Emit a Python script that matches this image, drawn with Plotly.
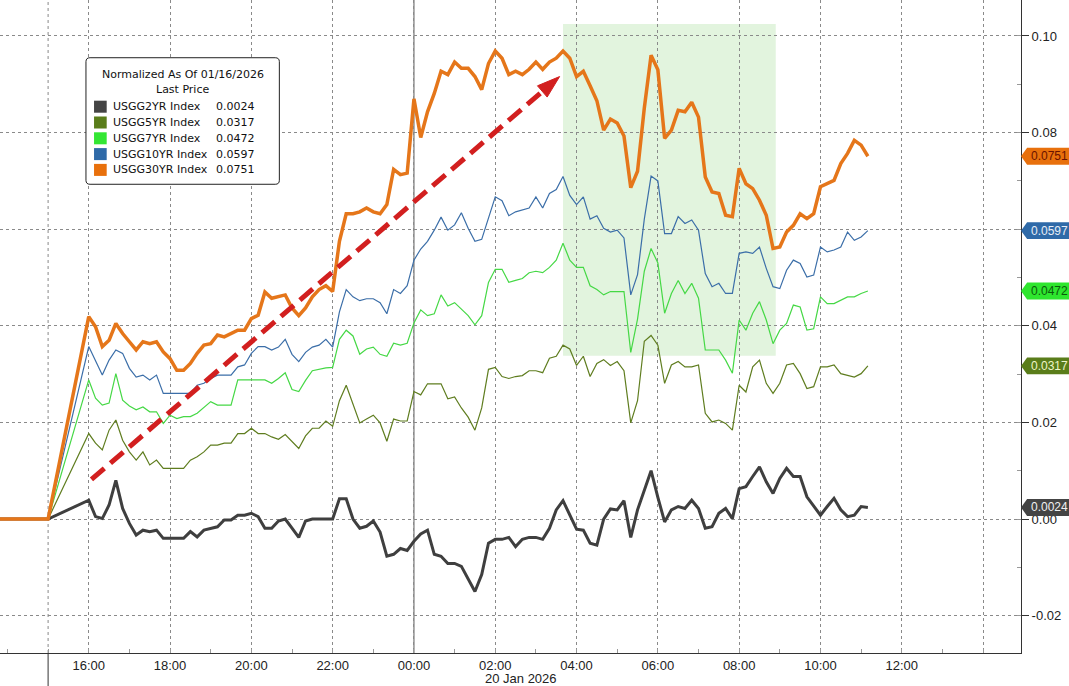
import pandas as pd
import plotly.graph_objects as go

# Yield changes normalized as of 01/16/2026, sampled every 10 minutes from 19 Jan 16:00
series_names = ["USGG2YR Index", "USGG5YR Index", "USGG7YR Index", "USGG10YR Index", "USGG30YR Index"]
last_prices = [0.0024, 0.0317, 0.0472, 0.0597, 0.0751]

# flat part before the session opens
lead_times = ["2026-01-19 13:40", "2026-01-19 15:00"]
lead_values = [0.0, 0.0]

usgg2yr = [
    0.0039, 0.0005, 0.0001, 0.0029, 0.0080, 0.0022, -0.0009, -0.0033, -0.0023, -0.0026,
    -0.0023, -0.0040, -0.0040, -0.0040, -0.0040, -0.0026, -0.0037, -0.0023, -0.0019, -0.0016,
    -0.0002, -0.0002, 0.0008, 0.0008, 0.0012, 0.0005, -0.0019, -0.0019, -0.0004, 0.0000,
    -0.0019, -0.0038, -0.0004, 0.0000, 0.0000, 0.0000, 0.0000, 0.0042, 0.0042, 0.0000,
    -0.0019, -0.0015, -0.0004, -0.0027, -0.0077, -0.0073, -0.0061, -0.0065, -0.0046, -0.0031,
    -0.0023, -0.0073, -0.0077, -0.0092, -0.0092, -0.0098, -0.0125, -0.0150, -0.0115, -0.0050,
    -0.0042, -0.0042, -0.0038, -0.0057, -0.0042, -0.0038, -0.0038, -0.0042, -0.0019, 0.0019,
    0.0038, 0.0008, -0.0021, -0.0023, -0.0050, -0.0054, 0.0000, 0.0021, 0.0019, 0.0038,
    -0.0038, 0.0019, 0.0061, 0.0100, 0.0045, -0.0006, 0.0019, 0.0026, 0.0022, 0.0039,
    0.0022, -0.0019, -0.0016, 0.0012, 0.0022, 0.0001, 0.0063, 0.0067, 0.0088, 0.0108,
    0.0077, 0.0053, 0.0084, 0.0105, 0.0088, 0.0088, 0.0046, 0.0026, 0.0008, 0.0026,
    0.0043, 0.0019, 0.0005, 0.0008, 0.0026, 0.0024,
]
usgg5yr = [
    0.0177, 0.0157, 0.0143, 0.0184, 0.0205, 0.0163, 0.0139, 0.0122, 0.0139, 0.0112,
    0.0122, 0.0105, 0.0105, 0.0105, 0.0105, 0.0122, 0.0129, 0.0139, 0.0153, 0.0153,
    0.0157, 0.0157, 0.0177, 0.0177, 0.0188, 0.0177, 0.0177, 0.0170, 0.0165, 0.0175,
    0.0161, 0.0146, 0.0172, 0.0188, 0.0188, 0.0203, 0.0192, 0.0245, 0.0277, 0.0238,
    0.0199, 0.0207, 0.0215, 0.0199, 0.0161, 0.0207, 0.0203, 0.0203, 0.0264, 0.0257,
    0.0280, 0.0280, 0.0280, 0.0249, 0.0253, 0.0230, 0.0211, 0.0184, 0.0230, 0.0310,
    0.0314, 0.0295, 0.0291, 0.0295, 0.0297, 0.0307, 0.0307, 0.0303, 0.0333, 0.0337,
    0.0360, 0.0352, 0.0318, 0.0337, 0.0295, 0.0322, 0.0330, 0.0318, 0.0326, 0.0307,
    0.0199, 0.0245, 0.0368, 0.0380, 0.0360, 0.0281, 0.0319, 0.0326, 0.0315, 0.0315,
    0.0319, 0.0219, 0.0201, 0.0205, 0.0198, 0.0184, 0.0277, 0.0263, 0.0315, 0.0329,
    0.0281, 0.0260, 0.0281, 0.0319, 0.0322, 0.0301, 0.0270, 0.0274, 0.0315, 0.0315,
    0.0319, 0.0301, 0.0298, 0.0294, 0.0301, 0.0317,
]
usgg7yr = [
    0.0288, 0.0250, 0.0236, 0.0240, 0.0301, 0.0246, 0.0234, 0.0226, 0.0232, 0.0222,
    0.0222, 0.0198, 0.0215, 0.0208, 0.0212, 0.0212, 0.0219, 0.0232, 0.0243, 0.0236,
    0.0236, 0.0236, 0.0288, 0.0288, 0.0288, 0.0288, 0.0288, 0.0281, 0.0291, 0.0303,
    0.0268, 0.0264, 0.0287, 0.0307, 0.0310, 0.0313, 0.0314, 0.0372, 0.0391, 0.0379,
    0.0341, 0.0352, 0.0356, 0.0341, 0.0337, 0.0364, 0.0360, 0.0364, 0.0406, 0.0433,
    0.0421, 0.0425, 0.0464, 0.0441, 0.0448, 0.0435, 0.0421, 0.0402, 0.0421, 0.0490,
    0.0517, 0.0517, 0.0490, 0.0494, 0.0498, 0.0510, 0.0513, 0.0510, 0.0521, 0.0536,
    0.0571, 0.0536, 0.0521, 0.0521, 0.0483, 0.0475, 0.0464, 0.0471, 0.0471, 0.0471,
    0.0345, 0.0414, 0.0513, 0.0560, 0.0530, 0.0426, 0.0467, 0.0494, 0.0467, 0.0488,
    0.0457, 0.0350, 0.0350, 0.0350, 0.0329, 0.0302, 0.0412, 0.0391, 0.0426, 0.0450,
    0.0412, 0.0363, 0.0391, 0.0405, 0.0443, 0.0439, 0.0391, 0.0394, 0.0460, 0.0446,
    0.0446, 0.0453, 0.0460, 0.0460, 0.0467, 0.0472,
]
usgg10yr = [
    0.0357, 0.0326, 0.0298, 0.0329, 0.0350, 0.0343, 0.0312, 0.0294, 0.0298, 0.0288,
    0.0298, 0.0260, 0.0260, 0.0260, 0.0260, 0.0260, 0.0277, 0.0281, 0.0291, 0.0298,
    0.0298, 0.0298, 0.0315, 0.0319, 0.0343, 0.0357, 0.0357, 0.0350, 0.0356, 0.0372,
    0.0341, 0.0326, 0.0345, 0.0356, 0.0360, 0.0372, 0.0356, 0.0429, 0.0475, 0.0460,
    0.0452, 0.0456, 0.0456, 0.0448, 0.0425, 0.0475, 0.0467, 0.0483, 0.0536, 0.0559,
    0.0575, 0.0598, 0.0625, 0.0598, 0.0609, 0.0634, 0.0602, 0.0575, 0.0579, 0.0625,
    0.0667, 0.0659, 0.0628, 0.0636, 0.0640, 0.0644, 0.0667, 0.0644, 0.0674, 0.0682,
    0.0709, 0.0670, 0.0651, 0.0667, 0.0621, 0.0628, 0.0602, 0.0594, 0.0598, 0.0582,
    0.0464, 0.0506, 0.0621, 0.0710, 0.0700, 0.0591, 0.0591, 0.0626, 0.0612, 0.0619,
    0.0598, 0.0508, 0.0481, 0.0488, 0.0467, 0.0467, 0.0550, 0.0553, 0.0550, 0.0563,
    0.0519, 0.0481, 0.0477, 0.0515, 0.0536, 0.0529, 0.0501, 0.0505, 0.0563, 0.0553,
    0.0557, 0.0563, 0.0594, 0.0577, 0.0584, 0.0597,
]
usgg30yr = [
    0.0419, 0.0398, 0.0357, 0.0370, 0.0405, 0.0384, 0.0367, 0.0350, 0.0367, 0.0363,
    0.0367, 0.0346, 0.0332, 0.0308, 0.0308, 0.0322, 0.0343, 0.0360, 0.0363, 0.0381,
    0.0377, 0.0384, 0.0391, 0.0391, 0.0415, 0.0422, 0.0470, 0.0457, 0.0460, 0.0464,
    0.0437, 0.0421, 0.0437, 0.0460, 0.0475, 0.0483, 0.0471, 0.0575, 0.0632, 0.0632,
    0.0636, 0.0644, 0.0636, 0.0632, 0.0651, 0.0724, 0.0713, 0.0716, 0.0870, 0.0790,
    0.0843, 0.0881, 0.0927, 0.0920, 0.0946, 0.0933, 0.0933, 0.0916, 0.0889, 0.0943,
    0.0969, 0.0954, 0.0920, 0.0927, 0.0920, 0.0931, 0.0946, 0.0931, 0.0946, 0.0954,
    0.0969, 0.0954, 0.0916, 0.0927, 0.0897, 0.0866, 0.0805, 0.0828, 0.0820, 0.0793,
    0.0686, 0.0720, 0.0851, 0.0960, 0.0930, 0.0788, 0.0805, 0.0846, 0.0843, 0.0863,
    0.0832, 0.0708, 0.0677, 0.0674, 0.0629, 0.0626, 0.0726, 0.0694, 0.0684, 0.0660,
    0.0629, 0.0560, 0.0563, 0.0594, 0.0608, 0.0632, 0.0622, 0.0632, 0.0688, 0.0694,
    0.0701, 0.0736, 0.0757, 0.0784, 0.0774, 0.0751,
]
series_values = [usgg2yr, usgg5yr, usgg7yr, usgg10yr, usgg30yr]

times = pd.date_range("2026-01-19 16:00", periods=len(usgg30yr), freq="10min")

x_tick_times = [
    "2026-01-19 16:00", "2026-01-19 18:00", "2026-01-19 20:00", "2026-01-19 22:00",
    "2026-01-20 00:00", "2026-01-20 02:00", "2026-01-20 04:00", "2026-01-20 06:00",
    "2026-01-20 08:00", "2026-01-20 10:00", "2026-01-20 12:00", "2026-01-20 14:00",
]
x_tick_labels = ["16:00", "18:00", "20:00", "22:00", "00:00", "02:00",
                 "04:00", "06:00", "08:00", "10:00", "12:00", ""]

# 0.06 sits under the 10YR tag, so its label is left blank
y_tick_values = [-0.02, 0.0, 0.02, 0.04, 0.06, 0.08, 0.10]
y_tick_labels = ["-0.02", "0.00", "0.02", "0.04", "", "0.08", "0.10"]

# highlighted window and the trend arrow
window_times = ["2026-01-20 03:40", "2026-01-20 08:54"]
window_values = [0.0338, 0.1025]
arrow_times = ["2026-01-19 16:04", "2026-01-20 03:35"]
arrow_values = [0.0082, 0.0916]

line_colors = ["#3f3f3f", "#5f7d1f", "#45d845", "#3b6ea8", "#e5761a"]
line_widths = [3, 1.2, 1.2, 1.2, 3.5]
tag_fills = ["#444444", "#5a7d1a", "#2ee62e", "#2f6aa8", "#e8700c"]
tag_text = ["#f0f0f0", "#eef5c8", "#0b5a0b", "#e8eef8", "#6a1200"]

tick_font = dict(family="Liberation Sans, Arial, sans-serif", size=13, color="#222")
box_font = dict(family="DejaVu Sans, Verdana, sans-serif", size=11, color="#111")

fig = go.Figure()

draw_order = [1, 2, 3, 0, 4]
for i in draw_order:
    fig.add_trace(go.Scatter(
        x=list(pd.to_datetime(lead_times)) + list(times),
        y=lead_values + series_values[i],
        mode="lines",
        name=series_names[i],
        line=dict(color=line_colors[i], width=line_widths[i]),
        showlegend=False,
        hoverinfo="skip",
    ))

# red dashed trend arrow
fig.add_trace(go.Scatter(
    x=arrow_times,
    y=arrow_values,
    mode="lines+markers",
    line=dict(color="#d21f1f", width=5, dash="17px,8px"),
    marker=dict(symbol=["circle", "arrow"], size=[11, 24], color="#d21f1f",
                angleref="previous", opacity=1, line=dict(width=1, color="#d21f1f")),
    showlegend=False,
    hoverinfo="skip",
))

shapes = [
    dict(type="rect", xref="x", yref="y", layer="below",
         x0=window_times[0], x1=window_times[1], y0=window_values[0], y1=window_values[1],
         fillcolor="rgba(140,210,125,0.25)", line=dict(width=0)),
    # date boundary at midnight
    dict(type="line", xref="x", yref="paper", layer="below",
         x0="2026-01-20 00:00", x1="2026-01-20 00:00", y0=0, y1=1,
         line=dict(color="#5a5a5a", width=1)),
    # session start marker
    dict(type="line", xref="x", yref="paper", layer="below",
         x0="2026-01-19 15:00", x1="2026-01-19 15:00", y0=0, y1=1,
         line=dict(color="#888", width=1, dash="dot")),
    dict(type="line", xref="x", yref="paper",
         x0="2026-01-19 15:00", x1="2026-01-19 15:00", y0=-0.06, y1=0,
         line=dict(color="#333", width=1)),
]

annotations = []

# last value tags on the right axis
half_h = 0.00175
for i, v in enumerate(last_prices):
    shapes.append(dict(
        type="path", xref="paper", yref="y", layer="above",
        path=(f"M 1.0,{v} L 1.006,{v + half_h} L 1.06,{v + half_h} "
              f"L 1.06,{v - half_h} L 1.006,{v - half_h} Z"),
        fillcolor=tag_fills[i], line=dict(width=0),
    ))
    annotations.append(dict(
        xref="paper", yref="y", x=1.0075, y=v, xanchor="left", yanchor="middle",
        text=f"{v:.4f}", showarrow=False,
        font=dict(family="Liberation Sans, Arial, sans-serif", size=12, color=tag_text[i]),
    ))

# legend box
bx0, bx1, by0, by1 = 0.0842, 0.2736, 0.7178, 0.9116
rx, ry = 0.004, 0.006
shapes.append(dict(
    type="path", xref="paper", yref="paper", layer="above",
    path=(f"M {bx0 + rx},{by0} L {bx1 - rx},{by0} Q {bx1},{by0} {bx1},{by0 + ry} "
          f"L {bx1},{by1 - ry} Q {bx1},{by1} {bx1 - rx},{by1} L {bx0 + rx},{by1} "
          f"Q {bx0},{by1} {bx0},{by1 - ry} L {bx0},{by0 + ry} Q {bx0},{by0} {bx0 + rx},{by0} Z"),
    fillcolor="white", line=dict(color="#222", width=1),
))
annotations.append(dict(xref="paper", yref="paper", x=0.1789, y=0.8852,
                        text="Normalized As Of 01/16/2026", showarrow=False,
                        xanchor="center", yanchor="middle", font=box_font))
annotations.append(dict(xref="paper", yref="paper", x=0.1789, y=0.8622,
                        text="Last Price", showarrow=False,
                        xanchor="center", yanchor="middle", font=box_font))
for i, (name, v) in enumerate(zip(series_names, last_prices)):
    row_y = (653 - (106.7 + 15.8 * i)) / 653
    shapes.append(dict(type="rect", xref="paper", yref="paper", layer="above",
                       x0=0.0921, x1=0.1045, y0=row_y - 0.0092, y1=row_y + 0.0092,
                       fillcolor=tag_fills[i] if i != 2 else "#33e633", line=dict(width=0)))
    annotations.append(dict(xref="paper", yref="paper", x=0.1084, y=row_y,
                            text=name, showarrow=False, xanchor="left",
                            yanchor="middle", font=box_font))
    annotations.append(dict(xref="paper", yref="paper", x=0.2096, y=row_y,
                            text=f"{v:.4f}", showarrow=False, xanchor="left",
                            yanchor="middle", font=box_font))

annotations.append(dict(xref="paper", yref="paper", x=0.5103, y=-0.0398,
                        text="20 Jan 2026", showarrow=False, xanchor="center",
                        yanchor="middle", font=tick_font))

fig.update_layout(
    width=1069,
    height=686,
    margin=dict(l=0, r=48, t=0, b=33),
    paper_bgcolor="white",
    plot_bgcolor="white",
    shapes=shapes,
    annotations=annotations,
    xaxis=dict(
        type="date",
        range=["2026-01-19 13:49", "2026-01-20 14:56"],
        tickmode="array",
        tickvals=x_tick_times,
        ticktext=x_tick_labels,
        ticks="",
        showgrid=True,
        gridcolor="#8a8a8a",
        griddash="dot",
        gridwidth=1,
        showline=True,
        linecolor="#333",
        linewidth=1,
        zeroline=False,
        tickfont=tick_font,
        minor=dict(tickmode="linear", tick0="2026-01-19 15:00", dtick=3600000,
                   ticks="inside", ticklen=4, tickcolor="#999", showgrid=False),
    ),
    yaxis=dict(
        side="right",
        range=[-0.02773, 0.10745],
        tickmode="array",
        tickvals=y_tick_values,
        ticktext=y_tick_labels,
        ticks="outside",
        ticklen=7,
        tickcolor="#333",
        showgrid=True,
        gridcolor="#8a8a8a",
        griddash="3px,3px",
        gridwidth=1,
        zeroline=False,
        showline=True,
        linecolor="#333",
        linewidth=1,
        tickfont=tick_font,
        minor=dict(tickmode="linear", tick0=0, dtick=0.01, ticks="inside", ticklen=4,
                   tickcolor="#999", showgrid=False),
    ),
)

# the page's default body margin would push the fixed-size figure off the window
fig.write_html("out.html", config={"displayModeBar": False},
               post_script="document.body.style.margin = '0';")
